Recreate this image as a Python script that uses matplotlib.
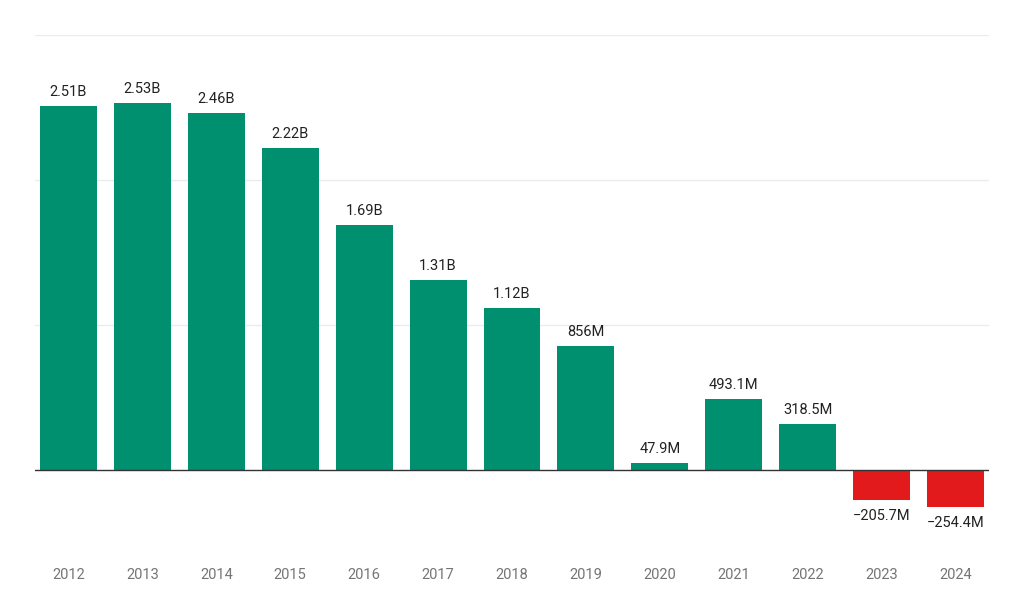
import matplotlib.pyplot as plt

years = ["2012", "2013", "2014", "2015", "2016", "2017", "2018",
         "2019", "2020", "2021", "2022", "2023", "2024"]
values = [2.51, 2.53, 2.46, 2.22, 1.69, 1.31, 1.12,
          0.856, 0.0479, 0.4931, 0.3185, -0.2057, -0.2544]
labels = ["2.51B", "2.53B", "2.46B", "2.22B", "1.69B", "1.31B", "1.12B",
          "856M", "47.9M", "493.1M", "318.5M", "\u2212205.7M", "\u2212254.4M"]

plt.rcParams['font.family'] = ['Roboto', 'DejaVu Sans']

fig = plt.figure(figsize=(10.24, 6.02), dpi=100)
ax = fig.add_axes([35 / 1024, 1 - 557 / 602, 954 / 1024, (557 - 35) / 602])

green = "#00906f"
red = "#e31a1c"
colors = [green if v >= 0 else red for v in values]
x = range(len(years))
ax.bar(x, values, width=0.771, color=colors, zorder=2)

for i, (v, lab) in enumerate(zip(values, labels)):
    if v >= 0:
        ax.annotate(lab, (i, v), xytext=(0, 5), textcoords="offset points",
                    ha="center", va="bottom", fontsize=10.5, color="#222222")
    else:
        ax.annotate(lab, (i, v), xytext=(0, -6.5), textcoords="offset points",
                    ha="center", va="top", fontsize=10.5, color="#222222")

ax.set_xlim(-0.453, len(years) - 1 + 0.453)
ax.set_ylim(-0.6, 3.0)
ax.set_yticks([1, 2, 3])
ax.yaxis.grid(True, color="#ebebeb", linewidth=1, zorder=0)
ax.axhline(0, color="#333333", linewidth=1, zorder=3)
ax.set_yticklabels([])
ax.tick_params(axis="y", length=0)
ax.set_xticks(list(x))
ax.set_xticklabels(years, fontsize=10.5, color="#757575")
ax.tick_params(axis="x", length=0, pad=8)
for s in ax.spines.values():
    s.set_visible(False)

fig.savefig("out.png", dpi=100)
